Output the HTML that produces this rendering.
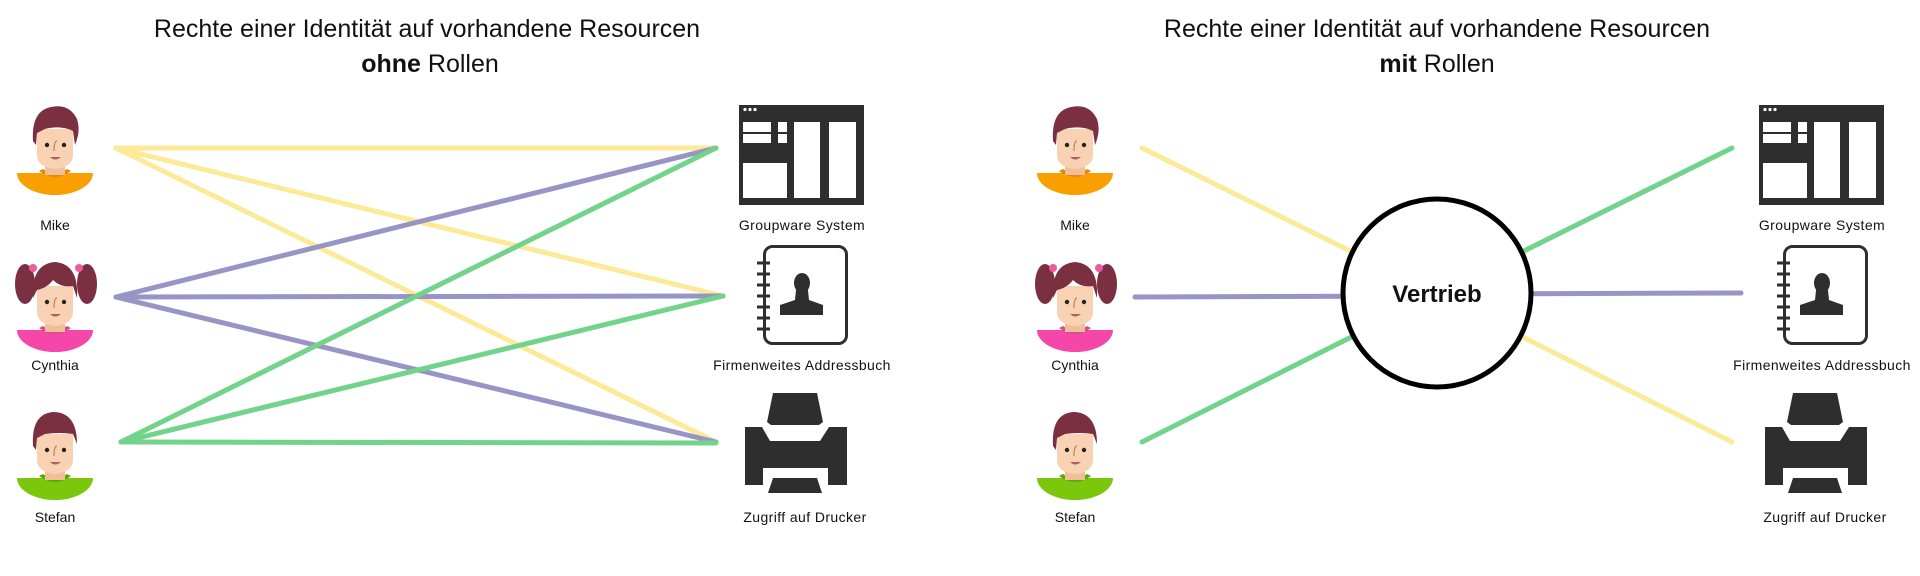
<!DOCTYPE html>
<html><head><meta charset="utf-8"><style>
html,body{margin:0;padding:0;background:#fff;width:1920px;height:576px;overflow:hidden}
svg text{font-family:"Liberation Sans",sans-serif;fill:#111}
</style></head><body>
<svg width="1920" height="576" viewBox="0 0 1920 576" xmlns="http://www.w3.org/2000/svg">
<defs>
<g id="face">
  <rect x="28" y="50" width="20" height="20" fill="#f0bf98"/>
  <path d="M20,24 L56,24 L56,50 Q56,62 38,64 Q20,62 20,50 Z" fill="#f8d2b2"/>
  <circle cx="30" cy="40" r="2.2" fill="#222"/>
  <circle cx="47" cy="40" r="2.2" fill="#222"/>
  <path d="M40,36 Q37,36 37,46" stroke="#c08060" stroke-width="1.2" fill="none"/>
  <path d="M33,52 Q38,57 44,52 Z" fill="#b0605a"/>
</g>
<g id="mike">
  <path d="M0,68 L76,68 A38,22 0 0 1 0,68 Z" fill="#f9a000"/>
  <path d="M22,66 Q38,78 54,66 L50,64 Q38,72 26,64 Z" fill="#e08810"/>
  <use href="#face"/>
  <path d="M16,36 Q14,6 34,2 Q52,-2 60,14 Q64,26 58,40 L56,26 Q44,20 28,24 L20,28 L19,40 Z" fill="#7a3040"/>
</g>
<g id="cynthia">
  <ellipse cx="8" cy="22" rx="10" ry="20" fill="#7a3040"/>
  <ellipse cx="70" cy="22" rx="10" ry="20" fill="#7a3040"/>
  <circle cx="16" cy="6" r="4" fill="#f05aa0"/>
  <circle cx="62" cy="6" r="4" fill="#f05aa0"/>
  <path d="M0,68 L76,68 A38,22 0 0 1 0,68 Z" fill="#f547a9"/>
  <path d="M22,66 Q38,78 54,66 L50,64 Q38,72 26,64 Z" fill="#d0508a"/>
  <use href="#face"/>
  <path d="M16,36 Q14,2 38,0 Q62,2 60,36 L56,24 Q44,26 36,18 Q30,26 20,28 Z" fill="#7a3040"/>
</g>
<g id="stefan">
  <path d="M0,68 L76,68 A38,22 0 0 1 0,68 Z" fill="#7ac70c"/>
  <path d="M22,66 Q38,78 54,66 L50,64 Q38,72 26,64 Z" fill="#5aa80a"/>
  <use href="#face"/>
  <path d="M16,36 Q14,4 36,2 Q60,2 60,34 L56,24 Q42,22 28,24 L20,28 L19,40 Z" fill="#7a3040"/>
</g>
<g id="groupware">
  <rect x="739" y="105" width="125" height="100" fill="#2e2e2e"/>
  <circle cx="745" cy="109.5" r="1.6" fill="#fff"/><circle cx="750" cy="109.5" r="1.6" fill="#fff"/><circle cx="755" cy="109.5" r="1.6" fill="#fff"/>
  <rect x="743" y="122" width="28" height="10" fill="#fff"/>
  <rect x="743" y="134" width="28" height="9" fill="#fff"/>
  <rect x="778" y="122" width="9" height="10" fill="#fff"/>
  <rect x="778" y="134" width="9" height="9" fill="#fff"/>
  <rect x="743" y="163" width="44" height="35" fill="#fff"/>
  <rect x="794" y="122" width="26" height="76" fill="#fff"/>
  <rect x="829" y="122" width="27" height="76" fill="#fff"/>
</g>
<g id="addr">
  <rect x="764.5" y="246.5" width="82" height="97" rx="8" fill="none" stroke="#2e2e2e" stroke-width="3"/>
  <g stroke="#2e2e2e" stroke-width="3">
    <line x1="757" y1="263" x2="770" y2="263"/><line x1="757" y1="274" x2="770" y2="274"/>
    <line x1="757" y1="285" x2="770" y2="285"/><line x1="757" y1="296" x2="770" y2="296"/>
    <line x1="757" y1="307" x2="770" y2="307"/><line x1="757" y1="318" x2="770" y2="318"/>
    <line x1="757" y1="329" x2="770" y2="329"/>
  </g>
  <ellipse cx="802" cy="283" rx="8" ry="10" fill="#2e2e2e"/>
  <path d="M796,290 L808,290 L809,300 L823,305 L823,315 L780,315 L780,305 L795,300 Z" fill="#2e2e2e"/>
</g>
<g id="printer" fill="#2e2e2e">
  <path d="M773,393 L817,393 L823,422 L819,425 L771,425 L767,422 Z"/>
  <path d="M745,427 L762,427 L770,441 L820,441 L829,427 L847,427 L847,485 L828,485 L828,468 L763,468 L763,485 L745,485 Z"/>
  <path d="M773,478 L817,478 L822,493 L768,493 Z"/>
</g>
</defs>

<!-- LEFT -->
<text x="427" y="37" font-size="25" text-anchor="middle">Rechte einer Identität auf vorhandene Resourcen</text>
<text x="430" y="72" font-size="25" text-anchor="middle"><tspan font-weight="bold">ohne</tspan> Rollen</text>

<g stroke-width="5" stroke-linecap="round" fill="none">
  <line x1="116" y1="148" x2="716" y2="148" stroke="#fdea98"/>
  <line x1="116" y1="148" x2="723" y2="296" stroke="#fdea98"/>
  <line x1="116" y1="148" x2="716" y2="442" stroke="#fdea98"/>
  <line x1="116" y1="297" x2="716" y2="148" stroke="#9795c5"/>
  <line x1="116" y1="297" x2="723" y2="296" stroke="#9795c5"/>
  <line x1="116" y1="297" x2="716" y2="442" stroke="#9795c5"/>
  <line x1="121" y1="442" x2="716" y2="148" stroke="#72d38a"/>
  <line x1="121" y1="442" x2="723" y2="296" stroke="#72d38a"/>
  <line x1="121" y1="442" x2="716" y2="443" stroke="#72d38a"/>
</g>

<use href="#mike" x="17" y="105"/>
<use href="#cynthia" x="17" y="262"/>
<use href="#stefan" x="17" y="410"/>
<text x="55" y="230" font-size="14" text-anchor="middle">Mike</text>
<text x="55" y="370" font-size="14" text-anchor="middle">Cynthia</text>
<text x="55" y="522" font-size="14" text-anchor="middle">Stefan</text>

<use href="#groupware"/><use href="#addr"/><use href="#printer"/>
<text x="802" y="230" font-size="14" text-anchor="middle" letter-spacing="0.4">Groupware System</text>
<text x="802" y="370" font-size="14" text-anchor="middle" letter-spacing="0.4">Firmenweites Addressbuch</text>
<text x="805" y="522" font-size="14" text-anchor="middle" letter-spacing="0.4">Zugriff auf Drucker</text>

<!-- RIGHT -->
<text x="1437" y="37" font-size="25" text-anchor="middle">Rechte einer Identität auf vorhandene Resourcen</text>
<text x="1437" y="72" font-size="25" text-anchor="middle"><tspan font-weight="bold">mit</tspan> Rollen</text>

<g stroke-width="5" stroke-linecap="round" fill="none">
  <line x1="1142" y1="148" x2="1437" y2="294" stroke="#fdea98"/>
  <line x1="1437" y1="294" x2="1732" y2="442" stroke="#fdea98"/>
  <line x1="1135" y1="297" x2="1437" y2="296" stroke="#9795c5"/>
  <line x1="1437" y1="294" x2="1741" y2="293" stroke="#9795c5"/>
  <line x1="1142" y1="442" x2="1437" y2="294" stroke="#72d38a"/>
  <line x1="1437" y1="294" x2="1732" y2="148" stroke="#72d38a"/>
</g>
<circle cx="1437" cy="293" r="94" fill="#fff" stroke="#000" stroke-width="5"/>
<text x="1437" y="302" font-size="24" font-weight="bold" text-anchor="middle">Vertrieb</text>

<use href="#mike" x="1037" y="105"/>
<use href="#cynthia" x="1037" y="262"/>
<use href="#stefan" x="1037" y="410"/>
<text x="1075" y="230" font-size="14" text-anchor="middle">Mike</text>
<text x="1075" y="370" font-size="14" text-anchor="middle">Cynthia</text>
<text x="1075" y="522" font-size="14" text-anchor="middle">Stefan</text>

<g transform="translate(1020,0)">
<use href="#groupware"/><use href="#addr"/><use href="#printer"/>
<text x="802" y="230" font-size="14" text-anchor="middle" letter-spacing="0.4">Groupware System</text>
<text x="802" y="370" font-size="14" text-anchor="middle" letter-spacing="0.4">Firmenweites Addressbuch</text>
<text x="805" y="522" font-size="14" text-anchor="middle" letter-spacing="0.4">Zugriff auf Drucker</text>
</g>
</svg>
</body></html>
